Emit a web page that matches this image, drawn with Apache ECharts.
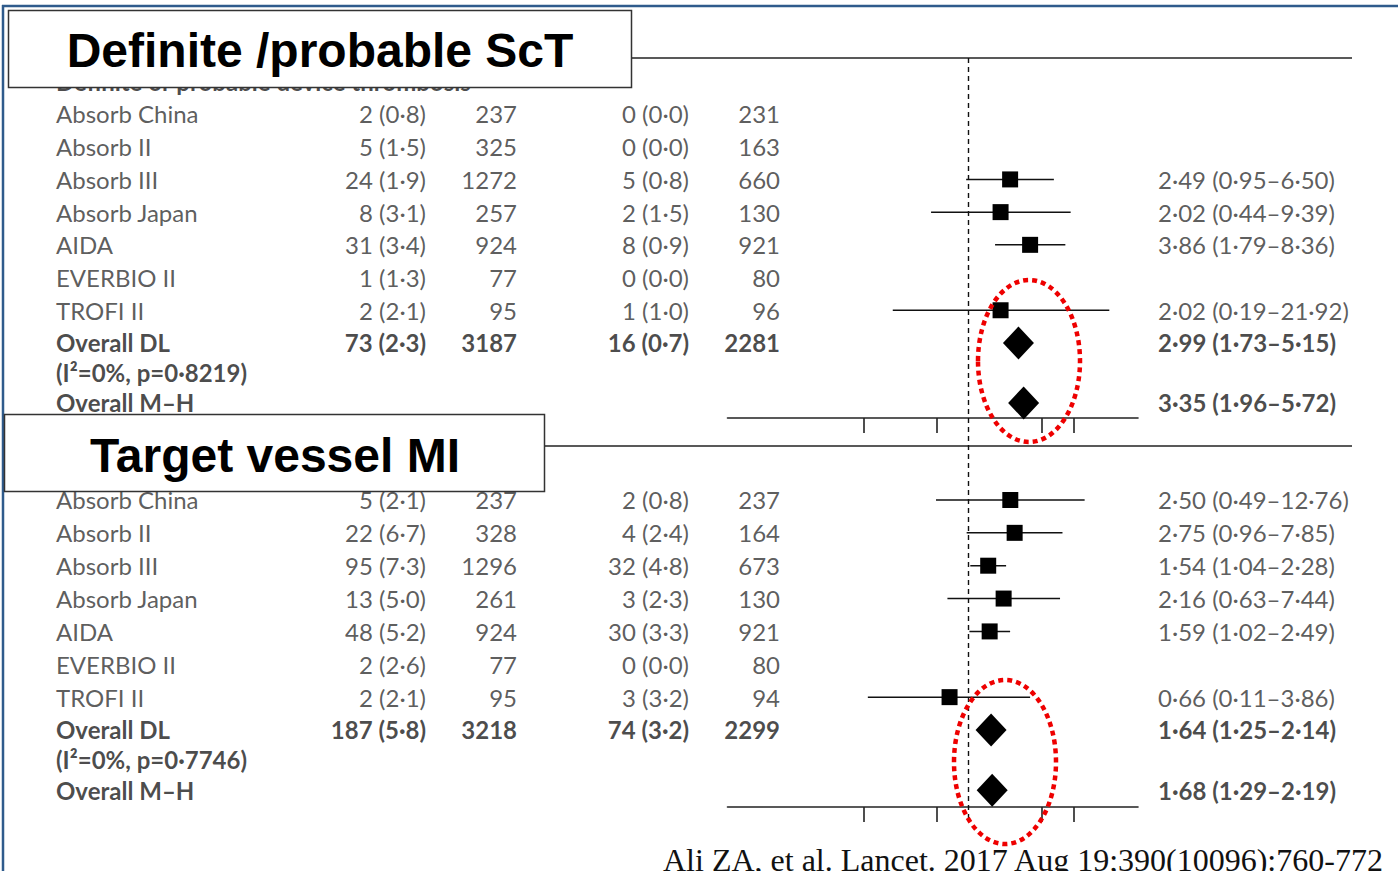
<!DOCTYPE html>
<html><head><meta charset="utf-8">
<script src="https://cdn.jsdelivr.net/npm/echarts@6/dist/echarts.min.js"></script>
<style>html,body{margin:0;padding:0;background:#fff}#c{width:1398px;height:871px}</style>
</head><body><div id="c"></div>
<script>
// ---------- DATA ----------
const studies = ['Absorb China','Absorb II','Absorb III','Absorb Japan','AIDA','EVERBIO II','TROFI II'];
const summaryNames = ['Overall DL', 'Overall M\u2013H'];

// Panel 1: definite / probable scaffold thrombosis
const scTitle = 'Definite /probable ScT';
const scHeader = 'Definite or probable device thrombosis';
const scHet = '(I\u00B2=0%, p=0\u00B78219)';
const scBvsEvents = [2, 5, 24, 8, 31, 1, 2, 73];
const scBvsPct    = [0.8, 1.5, 1.9, 3.1, 3.4, 1.3, 2.1, 2.3];
const scBvsN      = [237, 325, 1272, 257, 924, 77, 95, 3187];
const scEesEvents = [0, 0, 5, 2, 8, 0, 1, 16];
const scEesPct    = [0.0, 0.0, 0.8, 1.5, 0.9, 0.0, 1.0, 0.7];
const scEesN      = [231, 163, 660, 130, 921, 80, 96, 2281];
// rows: 7 studies, Overall DL, heterogeneity line, Overall M-H
const scRR = [null, null, 2.49, 2.02, 3.86, null, 2.02, 2.99, null, 3.35];
const scLo = [null, null, 0.95, 0.44, 1.79, null, 0.19, 1.73, null, 1.96];
const scHi = [null, null, 6.50, 9.39, 8.36, null, 21.92, 5.15, null, 5.72];

// Panel 2: target vessel MI
const miTitle = 'Target vessel MI';
const miHeader = 'Target-vessel myocardial infarction';
const miHet = '(I\u00B2=0%, p=0\u00B77746)';
const miBvsEvents = [5, 22, 95, 13, 48, 2, 2, 187];
const miBvsPct    = [2.1, 6.7, 7.3, 5.0, 5.2, 2.6, 2.1, 5.8];
const miBvsN      = [237, 328, 1296, 261, 924, 77, 95, 3218];
const miEesEvents = [2, 4, 32, 3, 30, 0, 3, 74];
const miEesPct    = [0.8, 2.4, 4.8, 2.3, 3.3, 0.0, 3.2, 3.2];
const miEesN      = [237, 164, 673, 130, 921, 80, 94, 2299];
const miRR = [2.50, 2.75, 1.54, 2.16, 1.59, null, 0.66, 1.64, null, 1.68];
const miLo = [0.49, 0.96, 1.04, 0.63, 1.02, null, 0.11, 1.25, null, 1.29];
const miHi = [12.76, 7.85, 2.28, 7.44, 2.49, null, 3.86, 2.14, null, 2.19];

// x-axis tick positions (risk ratio, log scale); reference line at 1
const forestTicks = [0.1, 0.5, 5, 10];
const refValue = 1;

const citation = 'Ali ZA, et al. Lancet. 2017 Aug 19;390(10096):760-772';

// ---------- LAYOUT / STYLE ----------
const L = {
  colName: 56, colBvsEv: 426, colBvsN: 517, colEesEv: 689, colEesN: 780, colCI: 1158,
  forestLeft: 727.5, forestWidth: 410.5,
  rowPos: [0, 1, 2, 3, 4, 5, 6, 7, 7.89, 8.835],
  headerPos: -1,
  p1: {top: 58, height: 360, yMin: -1.712, yMax: 9.294, axisOffset: 0},
  p2: {top: 418, height: 404, yMin: -2.495, yMax: 9.80, axisOffset: -15}
};
const lg = Math.log10;
const xMin = -2.295, xMax = 1.614;
const FONT = 'Lato, "Open Sans", sans-serif';
const TXT = '#333';
const TXTB = '#1c1c1c';

function dot(v, d) { return v.toFixed(d).replace('.', '\u00B7'); }
function evTxt(e, p) { return e + ' (' + dot(p, 1) + ')'; }

function buildPanel(P, tGrid, fGrid, header, het) {
  const names = studies.concat([summaryNames[0], het, summaryNames[1]]);
  const series = [];
  function col(x, align, texts, isHeader) {
    const data = [];
    texts.forEach((t, k) => {
      if (t === null || t === undefined) return;
      const y = isHeader ? L.headerPos : L.rowPos[k];
      const item = {value: [x, y, t]};
      if (isHeader || k >= 7) item.label = {fontWeight: 'bold', color: TXTB};
      data.push(item);
    });
    series.push({
      type: 'scatter', xAxisIndex: tGrid, yAxisIndex: tGrid, symbolSize: 1,
      itemStyle: {color: 'rgba(0,0,0,0)'}, silent: true, z: 3,
      label: {show: true, position: 'inside', align: align, verticalAlign: 'middle',
        formatter: p => p.value[2], fontFamily: FONT, fontSize: 24, color: TXT},
      emphasis: {disabled: true},
      data: data
    });
  }
  col(L.colName, 'left', [header], true);
  col(L.colName, 'left', names);
  col(L.colBvsEv, 'right', P.bvsE.map((e, k) => evTxt(e, P.bvsP[k])));
  col(L.colBvsN, 'right', P.bvsN.map(String));
  col(L.colEesEv, 'right', P.eesE.map((e, k) => evTxt(e, P.eesP[k])));
  col(L.colEesN, 'right', P.eesN.map(String));
  col(L.colCI, 'left', P.rr.map((r, k) => r === null ? null :
      dot(r, 2) + ' (' + dot(P.lo[k], 2) + '\u2013' + dot(P.hi[k], 2) + ')'));

  const ciData = [], sqData = [], diaData = [];
  P.rr.forEach((r, k) => {
    if (r === null) return;
    const y = L.rowPos[k];
    if (k < 7) { ciData.push([lg(P.lo[k]), lg(P.hi[k]), y]); sqData.push([lg(r), y]); }
    else diaData.push([lg(r), y]);
  });
  series.push({
    type: 'custom', xAxisIndex: fGrid, yAxisIndex: fGrid, silent: true, z: 4,
    encode: {x: [0, 1], y: 2},
    renderItem: (params, api) => {
      const a = api.coord([api.value(0), api.value(2)]);
      const b = api.coord([api.value(1), api.value(2)]);
      return {type: 'line', shape: {x1: a[0], y1: a[1], x2: b[0], y2: b[1]},
        style: {stroke: '#111', lineWidth: 1.5}};
    },
    data: ciData
  });
  series.push({
    type: 'scatter', xAxisIndex: fGrid, yAxisIndex: fGrid, silent: true, z: 5,
    symbol: 'rect', symbolSize: 16, itemStyle: {color: '#000', opacity: 1},
    emphasis: {disabled: true},
    data: sqData,
    markLine: {
      silent: true, symbol: 'none', label: {show: false},
      lineStyle: {color: '#111', type: [5, 4], width: 1.4, opacity: 1},
      data: [{xAxis: lg(refValue)}]
    }
  });
  series.push({
    type: 'scatter', xAxisIndex: fGrid, yAxisIndex: fGrid, silent: true, z: 5,
    symbol: 'diamond', symbolSize: [31, 33], itemStyle: {color: '#000', opacity: 1},
    emphasis: {disabled: true},
    data: diaData
  });
  return series;
}

const P1 = {bvsE: scBvsEvents, bvsP: scBvsPct, bvsN: scBvsN, eesE: scEesEvents, eesP: scEesPct, eesN: scEesN,
  rr: scRR, lo: scLo, hi: scHi};
const P2 = {bvsE: miBvsEvents, bvsP: miBvsPct, bvsN: miBvsN, eesE: miEesEvents, eesP: miEesPct, eesN: miEesN,
  rr: miRR, lo: miLo, hi: miHi};

const grids = [
  {left: 0, width: 1398, top: L.p1.top, height: L.p1.height},
  {left: L.forestLeft, width: L.forestWidth, top: L.p1.top, height: L.p1.height},
  {left: 0, width: 1398, top: L.p2.top, height: L.p2.height},
  {left: L.forestLeft, width: L.forestWidth, top: L.p2.top, height: L.p2.height}
];
const hiddenX = g => ({type: 'value', gridIndex: g, min: 0, max: 1398, show: false});
const forestX = (g, P) => ({type: 'value', gridIndex: g, min: xMin, max: xMax, position: 'bottom',
  offset: P.axisOffset,
  axisLine: {show: true, onZero: false, lineStyle: {color: '#222', width: 1.6}},
  axisTick: {show: true, inside: false, length: 15, customValues: forestTicks.map(lg),
    lineStyle: {color: '#222', width: 1.6}},
  axisLabel: {show: false}, splitLine: {show: false}});
const yAx = (g, P) => ({type: 'value', gridIndex: g, min: P.yMin, max: P.yMax, inverse: true, show: false});

const chart = echarts.init(document.getElementById('c'), null, {renderer: 'svg'});
chart.setOption({
  backgroundColor: '#fff',
  animation: false,
  grid: grids,
  xAxis: [hiddenX(0), forestX(1, L.p1), hiddenX(2), forestX(3, L.p2)],
  yAxis: [yAx(0, L.p1), yAx(1, L.p1), yAx(2, L.p2), yAx(3, L.p2)],
  series: [].concat(buildPanel(P1, 0, 1, scHeader, scHet), buildPanel(P2, 2, 3, miHeader, miHet)),
  graphic: [
    {type: 'line', z: 1, shape: {x1: 2, y1: 6, x2: 1398, y2: 6}, style: {stroke: '#2f5b8c', lineWidth: 2.5}},
    {type: 'line', z: 1, shape: {x1: 3, y1: 5, x2: 3, y2: 871}, style: {stroke: '#2f5b8c', lineWidth: 2.5}},
    {type: 'line', z: 1, shape: {x1: 10, y1: 58, x2: 1352, y2: 58}, style: {stroke: '#222', lineWidth: 1.6}},
    {type: 'line', z: 1, shape: {x1: 10, y1: 446, x2: 1352, y2: 446}, style: {stroke: '#222', lineWidth: 1.6}},
    {type: 'rect', z: 100, shape: {x: 8.5, y: 10.5, width: 623, height: 77}, style: {fill: '#fff', stroke: '#333', lineWidth: 1.5}},
    {type: 'text', z: 101, style: {text: scTitle, x: 320, y: 50, align: 'center', verticalAlign: 'middle',
      fontFamily: '"Liberation Sans", Arial, sans-serif', fontWeight: 'bold', fontSize: 48, fill: '#000'}},
    {type: 'rect', z: 100, shape: {x: 4.5, y: 414.5, width: 540, height: 77}, style: {fill: '#fff', stroke: '#333', lineWidth: 1.5}},
    {type: 'text', z: 101, style: {text: miTitle, x: 275, y: 455, align: 'center', verticalAlign: 'middle',
      fontFamily: '"Liberation Sans", Arial, sans-serif', fontWeight: 'bold', fontSize: 48, fill: '#000'}},
    {type: 'ellipse', z: 90, shape: {cx: 1029, cy: 361, rx: 51, ry: 81},
      style: {fill: 'none', stroke: '#ee0000', lineWidth: 4.5, lineDash: [5, 4]}},
    {type: 'ellipse', z: 90, shape: {cx: 1005, cy: 762, rx: 51, ry: 82},
      style: {fill: 'none', stroke: '#ee0000', lineWidth: 4.5, lineDash: [5, 4]}},
    {type: 'text', z: 101, style: {text: citation, x: 663, y: 860, align: 'left', verticalAlign: 'middle',
      fontFamily: '"Liberation Serif", "Times New Roman", serif', fontSize: 32, fill: '#111'}}
  ]
});
</script></body></html>
